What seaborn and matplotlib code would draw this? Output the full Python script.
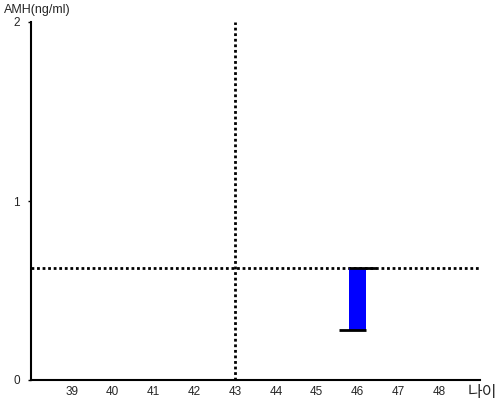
import matplotlib
matplotlib.use("Agg")
import matplotlib.pyplot as plt
import seaborn as sns

sns.set_theme(style="white")
plt.rcParams['font.family'] = ['Liberation Sans', 'Noto Sans CJK KR', 'DejaVu Sans']

# data
ages = [46]
amh_low = [0.28]
amh_high = [0.625]
ref_age = 43
ref_amh = 0.625
x_ticks = [39, 40, 41, 42, 43, 44, 45, 46, 47, 48]
y_ticks = [0, 1, 2]

fig = plt.figure(figsize=(5, 4), dpi=100)
ax = fig.add_axes([0.062, 0.05, 0.898, 0.895])

heights = [h - l for h, l in zip(amh_high, amh_low)]
ax.bar(ages, heights, bottom=amh_low, width=0.4, color="#0000ff", edgecolor="none", zorder=2)
for a, lo, hi in zip(ages, amh_low, amh_high):
    ax.hlines(hi, a - 0.2, a + 0.45, color="black", lw=2, zorder=3)
    ax.hlines(lo, a - 0.45, a + 0.2, color="black", lw=2, zorder=3)

ax.axhline(ref_amh, color="black", lw=2, ls=(0, (1, 1)), zorder=1)
ax.axvline(ref_age, color="black", lw=2, ls=(0, (1, 1)), zorder=1)

ax.set_xlim(38, 49)
ax.set_ylim(0, 2)
ax.set_xticks(x_ticks)
ax.set_yticks(y_ticks)
ax.tick_params(axis="x", length=0, labelsize=8.5, pad=4)
ax.tick_params(axis="y", length=2.5, width=1, color="black", labelsize=8.5, pad=5.5, left=True)

sns.despine(ax=ax)
for s in ["left", "bottom"]:
    ax.spines[s].set_color("black")
    ax.spines[s].set_linewidth(1.5)

fig.text(0.008, 0.975, "AMH(ng/ml)", fontsize=9, ha="left", va="center")
fig.text(0.994, 0.02, "나이", fontsize=11.5, ha="right", va="center")

fig.savefig("out.png", dpi=100)
